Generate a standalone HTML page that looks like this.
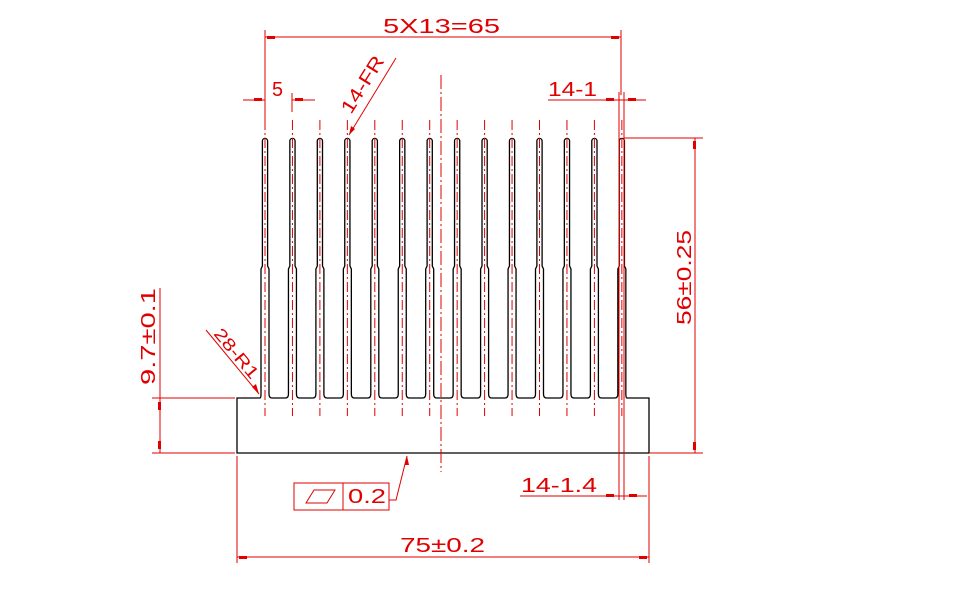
<!DOCTYPE html>
<html><head><meta charset="utf-8"><style>
html,body{margin:0;padding:0;background:#fff;width:957px;height:613px;overflow:hidden}
svg{display:block}
text{font-family:"Liberation Sans Narrow","Liberation Sans",sans-serif;fill:#e00000}
</style></head><body>
<svg id="s" width="957" height="613" viewBox="0 0 957 613" xmlns="http://www.w3.org/2000/svg">
<g id="fins" fill="none" stroke="#000" stroke-width="1.3"></g>
<g id="cl" stroke="#e00000" stroke-width="1" stroke-dasharray="10,3,2,3"></g>
<g stroke="#e00000" stroke-width="1" fill="none">
<line x1="441" y1="75" x2="441" y2="472" stroke-dasharray="14,3,2,3"/>
<line x1="265" y1="37" x2="621" y2="37"/>
<line x1="265" y1="30" x2="265" y2="120"/>
<line x1="621" y1="30" x2="621" y2="95"/>
<line x1="243" y1="100" x2="265" y2="100"/>
<line x1="292" y1="100" x2="315" y2="100"/>
<line x1="292" y1="93" x2="292" y2="112"/>
<line x1="265" y1="80" x2="265" y2="120"/>
<line x1="548" y1="100" x2="646" y2="100"/>
<line x1="619" y1="92" x2="619" y2="500"/>
<line x1="624" y1="92" x2="624" y2="500"/>
<line x1="624" y1="138" x2="703" y2="138"/>
<line x1="649" y1="453" x2="703" y2="453"/>
<line x1="695" y1="138" x2="695" y2="453"/>
<line x1="152" y1="398" x2="235" y2="398"/>
<line x1="152" y1="453" x2="235" y2="453"/>
<line x1="160" y1="288" x2="160" y2="453"/>
<line x1="206" y1="330" x2="259" y2="394"/>
<line x1="396" y1="58" x2="349" y2="135"/>
<rect x="294" y="483" width="95" height="27"/>
<line x1="343" y1="483" x2="343" y2="510"/>
<polygon points="306,503 314,490 335,490 327,503"/>
<polyline points="389,500 396,500 407,456"/>
<line x1="520" y1="496" x2="647" y2="496"/>
<line x1="237" y1="456" x2="237" y2="563"/>
<line x1="649" y1="456" x2="649" y2="563"/>
<line x1="237" y1="557" x2="649" y2="557"/>
</g>
<g fill="#e00000" stroke="none">
<rect x="254" y="98" width="8" height="3"/><rect x="295" y="98" width="8" height="3"/>
<rect x="606" y="98" width="8" height="3"/><rect x="628" y="98" width="8" height="3"/>
<rect x="693" y="141" width="3" height="8"/><rect x="693" y="442" width="3" height="8"/>
<rect x="158" y="402" width="3" height="8"/><rect x="158" y="441" width="3" height="8"/>
<rect x="606" y="494" width="8" height="3"/><rect x="629" y="494" width="8" height="3"/>
<polygon points="349,135 351,126 355,129"/>
<polygon points="259,394 252,387 256,384"/>
<polygon points="407,456 405,465 409,465"/>
<rect x="239" y="556" width="8" height="3"/><rect x="639" y="556" width="8" height="3"/>
<rect x="267" y="36" width="8" height="3"/><rect x="611" y="36" width="8" height="3"/>
</g>
<g font-size="20">
<text x="383" y="33" textLength="117" lengthAdjust="spacingAndGlyphs">5X13=65</text>
<text x="272" y="96" textLength="11" lengthAdjust="spacingAndGlyphs">5</text>
<text x="548" y="96" textLength="49" lengthAdjust="spacingAndGlyphs">14-1</text>
<text x="521" y="492" textLength="76" lengthAdjust="spacingAndGlyphs">14-1.4</text>
<text x="400" y="552" textLength="85" lengthAdjust="spacingAndGlyphs">75±0.2</text>
<text x="348" y="503" textLength="38" lengthAdjust="spacingAndGlyphs">0.2</text>
<text transform="translate(691,325) rotate(-90)" textLength="95" lengthAdjust="spacingAndGlyphs">56±0.25</text>
<text transform="translate(155,385) rotate(-90)" textLength="97" lengthAdjust="spacingAndGlyphs">9.7±0.1</text>
<text transform="translate(213,334) rotate(50.4)" font-size="17" textLength="60" lengthAdjust="spacingAndGlyphs">28-R1</text>
<text transform="translate(351,115) rotate(-58)" font-size="19" textLength="64" lengthAdjust="spacingAndGlyphs">14-FR</text>
</g>
</svg>
<script>
var ns="http://www.w3.org/2000/svg",f=document.getElementById('fins'),cl=document.getElementById('cl');
var d="M237 398 ";
for(var i=0;i<14;i++){
 var c=265+27.45*i;
 var a=c-4,b=c+4,p=c-2.6,q=c+2.6;
 if(i==0){d+="L"+(a-1)+" 398 Q"+a+" 398 "+a+" 394 ";}
 else{d+="L"+(a-3)+" 398 Q"+a+" 398 "+a+" 394 ";}
 d+="L"+a+" 269 L"+p+" 266 L"+p+" 141 A2.6 2.6 0 0 1 "+q+" 141 L"+q+" 266 L"+b+" 269 L"+b+" 394 ";
 if(i==13){d+="Q"+b+" 398 "+(b+1)+" 398 ";}
 else{d+="Q"+b+" 398 "+(b+3)+" 398 ";}
 var l=document.createElementNS(ns,'line');
 l.setAttribute('x1',c);l.setAttribute('x2',c);l.setAttribute('y1',120);l.setAttribute('y2',416);
 cl.appendChild(l);
}
d+="L649 398 L649 453 L237 453 Z";
var pth=document.createElementNS(ns,'path');pth.setAttribute('d',d);f.appendChild(pth);
</script>
</body></html>
